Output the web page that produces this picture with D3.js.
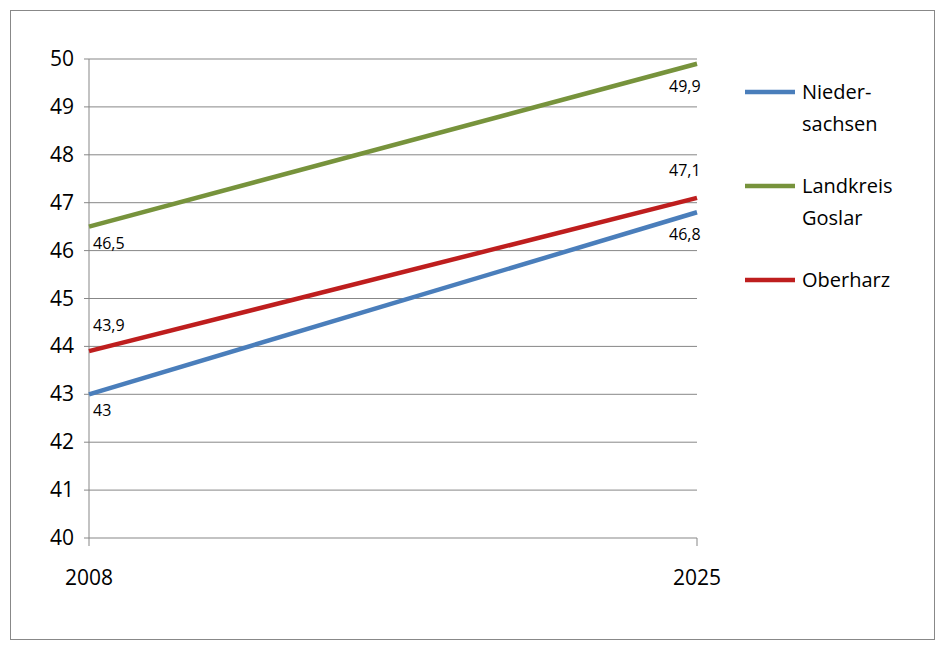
<!DOCTYPE html><html><head><meta charset="utf-8">
<script src="https://cdn.jsdelivr.net/npm/d3@7"></script>
<style>body{margin:0;background:#fff}text{font-family:"Open Sans",Calibri,sans-serif}</style></head><body>
<svg id="c" width="942" height="651"></svg>
<script>
const years=["2008","2025"];
const seriesNames=["Nieder-sachsen","Landkreis Goslar","Oberharz"];
const niedersachsen=[43,46.8];
const goslar=[46.5,49.9];
const oberharz=[43.9,47.1];
const colors=["#4a7ebb","#77933c","#be1e1e"];
const yTicks=[40,41,42,43,44,45,46,47,48,49,50];
const svg=d3.select("#c");
svg.append("rect").attr("x",10.5).attr("y",10.5).attr("width",924).attr("height",629).attr("fill","none").attr("stroke","#888");
const x=d3.scalePoint().domain(years).range([89,697]);
const y=d3.scaleLinear().domain([40,50]).range([538,59]);
svg.append("g").selectAll("line").data(yTicks).join("line").attr("x1",84).attr("x2",697)
 .attr("y1",d=>y(d)).attr("y2",d=>y(d)).attr("stroke","#878787").attr("stroke-width",1);
svg.append("line").attr("x1",89).attr("x2",89).attr("y1",59).attr("y2",538).attr("stroke","#878787");
svg.append("g").selectAll("line").data(years).join("line").attr("x1",d=>x(d)).attr("x2",d=>x(d)).attr("y1",538).attr("y2",546).attr("stroke","#878787");
svg.append("g").selectAll("text").data(yTicks).join("text").attr("x",74).attr("y",d=>y(d)+7).attr("text-anchor","end").attr("font-size",21).text(d=>d);
svg.append("g").selectAll("text").data(years).join("text").attr("x",d=>x(d)).attr("y",585).attr("text-anchor","middle").attr("font-size",21).text(d=>d);
const all=[niedersachsen,goslar,oberharz];
const line=d3.line().x((d,i)=>x(years[i])).y(d=>y(d));
all.forEach((s,k)=>svg.append("path").attr("d",line(s)).attr("fill","none").attr("stroke",colors[k]).attr("stroke-width",4.5));
const fmt=v=>String(v).replace(".",",");
const offs=[[22,28],[22,28],[-20,-22]];
all.forEach((s,k)=>s.forEach((v,i)=>svg.append("text").attr("x",i?669:93).attr("y",y(v)+offs[k][i]).attr("font-size",16).text(fmt(v))));
const ly=[92,186,280];
seriesNames.forEach((n,k)=>{
 svg.append("line").attr("x1",745).attr("x2",795).attr("y1",ly[k]).attr("y2",ly[k]).attr("stroke",colors[k]).attr("stroke-width",4.5);
 const parts=k==0?["Nieder-","sachsen"]:k==1?["Landkreis","Goslar"]:["Oberharz"];
 parts.forEach((p,j)=>svg.append("text").attr("x",802).attr("y",ly[k]+7+j*32).attr("font-size",20).text(p));
});
</script></body></html>
